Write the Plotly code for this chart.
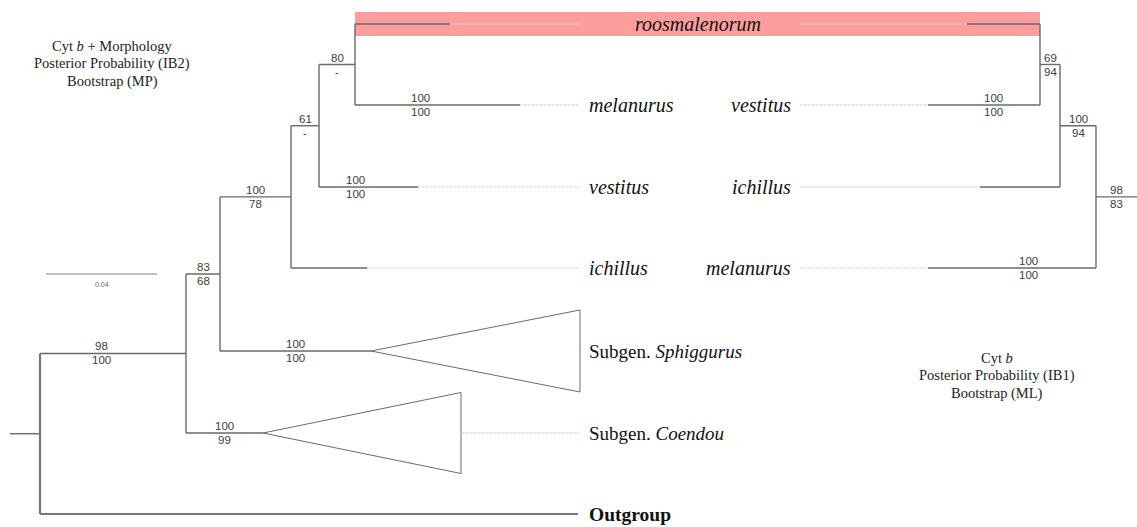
import plotly.graph_objects as go

# ---------------- data ----------------
# Left tree: Cyt b + Morphology (IB2 posterior / MP bootstrap)
left_children = {
    "root": ["A", "Outgroup"],
    "A": ["C", "Coendou"],
    "C": ["D", "Sphiggurus"],
    "D": ["E", "ichillus"],
    "E": ["F", "vestitus"],
    "F": ["roosmalenorum", "melanurus"],
}
left_node_depth = {"root": 40, "A": 186, "C": 220, "D": 291, "E": 319, "F": 355}
left_tip_row = {"roosmalenorum": 24, "melanurus": 105, "vestitus": 187, "ichillus": 268,
                "Sphiggurus": 351, "Coendou": 433, "Outgroup": 514}
left_tip_depth = {"roosmalenorum": 450, "melanurus": 520, "vestitus": 418, "ichillus": 367,
                  "Sphiggurus": 371, "Coendou": 263, "Outgroup": 578}
left_clade_extent = {"Sphiggurus": (580, 41), "Coendou": (461, 40.5)}
left_support = {"A": ("98", "100"), "C": ("83", "68"), "D": ("100", "78"), "E": ("61", "-"),
                "F": ("80", "-"), "Coendou": ("100", "99"), "Sphiggurus": ("100", "100"),
                "vestitus": ("100", "100"), "melanurus": ("100", "100")}
left_root_stub = 10

# Right tree: Cyt b (IB1 posterior / ML bootstrap)
right_children = {"R3": ["R2", "melanurus"], "R2": ["R1", "ichillus"], "R1": ["roosmalenorum", "vestitus"]}
right_node_depth = {"R3": 1096, "R2": 1060, "R1": 1040}
right_tip_row = {"roosmalenorum": 24, "vestitus": 105, "ichillus": 187, "melanurus": 268}
right_tip_depth = {"roosmalenorum": 967, "vestitus": 928, "ichillus": 980, "melanurus": 928}
right_support = {"R3": ("98", "83"), "R2": ("100", "94"), "R1": ("69", "94"),
                 "vestitus": ("100", "100"), "melanurus": ("100", "100")}
right_root_stub = 1137

scale_bar = (46, 157, 274, "0.04")

# ---------------- styles / layout constants ----------------
W, H = 1137, 527
LINE = "#6a6a6a"
DOT = "#d2d2d2"
SERIF = "Liberation Serif"
SANS = "Liberation Sans"
LEFT_DOT_END, RIGHT_DOT_END = 578, 800
LEFT_LABEL_X, RIGHT_LABEL_X = 587, 793
support_nudge = {("L", "A"): -12, ("L", "vestitus"): -13, ("L", "melanurus"): -17,
                 ("R", "vestitus"): 9, ("R", "melanurus"): 16}
heavy_tips = {"Outgroup"}


def node_y(n, children, rows):
    if n in rows:
        return rows[n]
    ys = [node_y(c, children, rows) for c in children[n]]
    return (ys[0] + ys[-1]) / 2


def depth(n, nodes, tips):
    return nodes[n] if n in nodes else tips[n]


solid_x, solid_y = [], []
heavy_x, heavy_y = [], []
dot_x, dot_y = [], []
tri_x, tri_y = [], []
annotations = []


def seg(xs, ys, x0, y0, x1, y1):
    xs += [x0, x1, None]
    ys += [y0, y1, None]


def support(side, n, xmid, y):
    top, bot = (left_support if side == "L" else right_support)[n]
    xm = xmid + support_nudge.get((side, n), 0)
    for txt, dy in ((top, -7), (bot, 7)):
        annotations.append(dict(x=xm, y=y + dy, text=txt, showarrow=False,
                                xanchor="center", yanchor="middle",
                                font=dict(family=SANS, size=11.5, color="#3c3c3c")))


def draw_tree(side, children, nodes, rows, tips, stub):
    parent = {c: p for p, cs in children.items() for c in cs}
    root = [n for n in nodes if n not in parent][0]
    ry = node_y(root, children, rows)
    seg(solid_x, solid_y, stub, ry, nodes[root], ry)
    sup = left_support if side == "L" else right_support
    if root in sup:
        support(side, root, (stub + nodes[root]) / 2, ry)
    for p, cs in children.items():
        px = nodes[p]
        ys = [node_y(c, children, rows) for c in cs]
        if any(c in heavy_tips for c in cs):
            seg(heavy_x, heavy_y, px, ys[0], px, ys[-1])
        else:
            seg(solid_x, solid_y, px, ys[0], px, ys[-1])
        for c, cy in zip(cs, ys):
            cx = depth(c, nodes, tips)
            if c in heavy_tips:
                seg(heavy_x, heavy_y, px, cy, cx, cy)
            else:
                seg(solid_x, solid_y, px, cy, cx, cy)
            if c in sup:
                support(side, c, (px + cx) / 2, cy)


draw_tree("L", left_children, left_node_depth, left_tip_row, left_tip_depth, left_root_stub)
draw_tree("R", right_children, right_node_depth, right_tip_row, right_tip_depth, right_root_stub)

# collapsed clades (triangles) and dotted leaders
for name, (xr, half) in left_clade_extent.items():
    ax, ay = left_tip_depth[name], left_tip_row[name]
    tri_x += [ax, xr, xr, ax, None]
    tri_y += [ay, ay - half, ay + half, ay, None]
for name, x in left_tip_depth.items():
    y = left_tip_row[name]
    if name == "Sphiggurus":
        continue
    start = left_clade_extent[name][0] + 1 if name in left_clade_extent else x
    if start < LEFT_DOT_END:
        seg(dot_x, dot_y, start, y, LEFT_DOT_END + 2, y)
for name, x in right_tip_depth.items():
    y = right_tip_row[name]
    seg(dot_x, dot_y, RIGHT_DOT_END, y, x, y)

fig = go.Figure()
fig.add_trace(go.Scatter(x=dot_x, y=dot_y, mode="lines", hoverinfo="skip",
                         line=dict(color=DOT, width=1, dash="3px,1px")))
fig.add_trace(go.Scatter(x=tri_x, y=tri_y, mode="lines", hoverinfo="skip",
                         line=dict(color=LINE, width=1)))
fig.add_trace(go.Scatter(x=solid_x, y=solid_y, mode="lines", hoverinfo="skip",
                         line=dict(color=LINE, width=1.4)))
fig.add_trace(go.Scatter(x=heavy_x, y=heavy_y, mode="lines", hoverinfo="skip",
                         line=dict(color="#777777", width=2.2)))
# scale bar
fig.add_trace(go.Scatter(x=[scale_bar[0], scale_bar[1]], y=[scale_bar[2], scale_bar[2]],
                         mode="lines", hoverinfo="skip", line=dict(color="#808080", width=1.2)))
annotations.append(dict(x=(scale_bar[0] + scale_bar[1]) / 2, y=scale_bar[2] + 10, text=scale_bar[3],
                        showarrow=False, font=dict(family=SANS, size=7, color="#666")))

# highlight band for roosmalenorum
ry = left_tip_row["roosmalenorum"]
fig.add_shape(type="rect", xref="x", yref="y", x0=left_node_depth["F"], x1=right_node_depth["R1"],
              y0=ry - 12, y1=ry + 12, fillcolor="#fd9d9d", line=dict(width=0), layer="below")


# tip labels
def label(x, y, text, anchor, size=20):
    annotations.append(dict(x=x, y=y, text=text, showarrow=False, xanchor=anchor, yanchor="middle",
                            font=dict(family=SERIF, size=size, color="#111")))


for name in ["melanurus", "vestitus", "ichillus"]:
    label(LEFT_LABEL_X, left_tip_row[name], f"<i>{name}</i>", "left")
    label(RIGHT_LABEL_X, right_tip_row[name], f"<i>{name}</i>", "right")
label((left_node_depth["F"] + right_node_depth["R1"]) / 2, ry, "<i>roosmalenorum</i>", "center")
label(LEFT_LABEL_X, left_tip_row["Sphiggurus"], "Subgen. <i>Sphiggurus</i>", "left", 19)
label(LEFT_LABEL_X, left_tip_row["Coendou"], "Subgen. <i>Coendou</i>", "left", 19)
label(LEFT_LABEL_X, left_tip_row["Outgroup"], "<b>Outgroup</b>", "left", 19.5)

# method captions
for (cx, ys, lines) in [(112, [46, 63.5, 81], ["Cyt <i>b</i> + Morphology", "Posterior Probability (IB2)", "Bootstrap (MP)"]),
                        (997, [358, 375.5, 393], ["Cyt <i>b</i>", "Posterior Probability (IB1)", "Bootstrap (ML)"])]:
    for y, t in zip(ys, lines):
        annotations.append(dict(x=cx, y=y, text=t, showarrow=False, xanchor="center", yanchor="middle",
                                font=dict(family=SERIF, size=14.5, color="#222")))

fig.update_layout(
    width=W, height=H, margin=dict(l=0, r=0, t=0, b=0),
    paper_bgcolor="white", plot_bgcolor="white", showlegend=False,
    xaxis=dict(range=[0, W], visible=False, fixedrange=True),
    yaxis=dict(range=[H, 0], visible=False, fixedrange=True),
    annotations=annotations,
)
fig.write_html("out.html", config={"displayModeBar": False},
               post_script="document.body.style.margin='0';document.body.style.overflow='hidden';")
